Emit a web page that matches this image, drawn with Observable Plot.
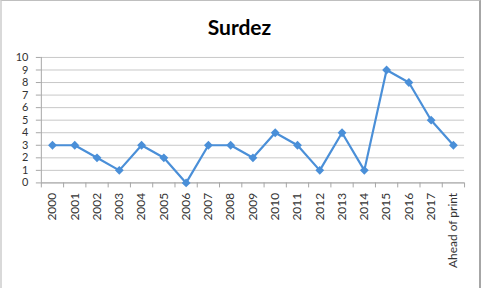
<!DOCTYPE html>
<html>
<head>
<meta charset="utf-8">
<script src="https://cdn.jsdelivr.net/npm/d3@7"></script>
<script src="https://cdn.jsdelivr.net/npm/@observablehq/plot@0.6"></script>
<style>
  html, body { margin: 0; padding: 0; background: #fff; }
  #wrap { position: relative; width: 481px; height: 288px; box-sizing: border-box;
          border-top: 1px solid #bfbfbf; border-left: 2px solid #d9d9d9; border-right: 2px solid #a6a6a6; overflow: hidden; }
  #title { height: 44px; font-family: Lato, sans-serif; font-weight: bold; font-size: 21px;
           text-align: center; line-height: 21px; padding-top: 15px; box-sizing: border-box; color: #000; margin-left: -2px; }
  #chart { position: absolute; left: -2px; top: 44px; }
</style>
</head>
<body>
<div id="wrap">
  <div id="title">Surdez</div>
  <div id="chart"></div>
</div>
<script>
const categories = ["2000","2001","2002","2003","2004","2005","2006","2007","2008","2009","2010","2011","2012","2013","2014","2015","2016","2017","Ahead of print"];
const values = [3,3,2,1,3,2,0,3,3,2,4,3,1,4,1,9,8,5,3];
const yTicks = [0,1,2,3,4,5,6,7,8,9,10];

const data = categories.map((c, i) => ({i, c, v: values[i]}));
const idx = d3.range(categories.length);
const bounds = d3.range(categories.length + 1).map(k => k - 0.5);

const chart = Plot.plot({
  width: 481,
  height: 243,
  marginLeft: 41,
  marginRight: 15,
  marginTop: 12,
  marginBottom: 105,
  style: {fontFamily: "Lato, sans-serif", fontSize: "12px", color: "#404040", background: "transparent"},
  x: {type: "linear", domain: [-0.5, categories.length - 0.5], axis: null, label: null},
  y: {domain: [0, 10], axis: null, label: null},
  marks: [
    Plot.gridY(yTicks, {stroke: "#c8c8c8", strokeOpacity: 1, strokeWidth: 1}),
    Plot.axisY(yTicks, {tickSize: 5, tickPadding: 8, stroke: "#a6a6a6", fill: "#333", fontSize: 11, label: null}),
    Plot.ruleX([-0.5], {stroke: "#a6a6a6"}),
    Plot.ruleY([0], {stroke: "#a6a6a6"}),
    Plot.axisX(bounds, {tickSize: 5, tickFormat: () => "", stroke: "#a6a6a6", label: null}),
    Plot.axisX(idx, {tickSize: 0, tickPadding: 10, tickRotate: -90, textAnchor: "end",
      tickFormat: i => categories[i], fill: "#333", fontSize: 12, label: null}),
    Plot.line(data, {x: "i", y: "v", stroke: "#4a8fd8", strokeWidth: 2.2}),
    Plot.dot(data, {x: "i", y: "v", symbol: "diamond2", r: 4, fill: "#4a8fd8", stroke: "none"})
  ]
});
document.getElementById("chart").appendChild(chart);
</script>
</body>
</html>
